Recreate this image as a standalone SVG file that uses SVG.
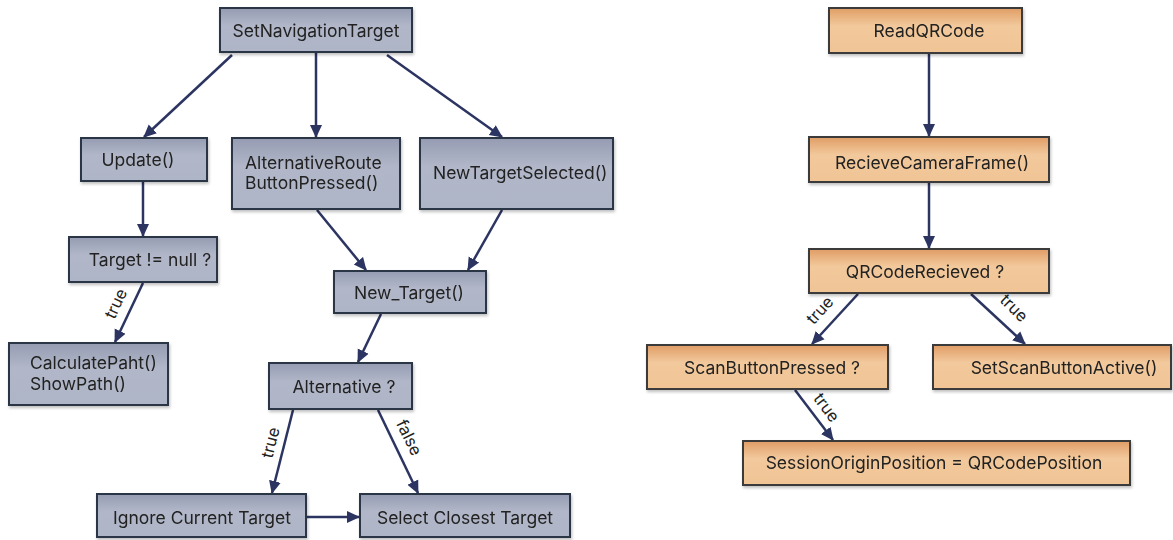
<svg xmlns="http://www.w3.org/2000/svg" width="1173" height="540" viewBox="0 0 1173 540">
<style>
.b{fill:url(#gb);stroke:#2b3445;stroke-width:2}
.o{fill:url(#go);stroke:#3a3a3a;stroke-width:2}
.t{font-family:Inter,"Liberation Sans",sans-serif;font-size:17.5px;fill:#222}
.c{text-anchor:middle}
.e{stroke:#2c3461;stroke-width:2.5;fill:none;marker-end:url(#ah)}
.l{font-family:Inter,"Liberation Sans",sans-serif;font-size:16.5px;fill:#222;text-anchor:middle}
</style>
<defs>
<linearGradient id="gb" x1="0" y1="0" x2="0" y2="1">
<stop offset="0" stop-color="#959cb2"/><stop offset="0.4" stop-color="#b1b7c8"/><stop offset="1" stop-color="#aeb5c6"/>
</linearGradient>
<linearGradient id="go" x1="0" y1="0" x2="0" y2="1">
<stop offset="0" stop-color="#e09d66"/><stop offset="0.4" stop-color="#f2c99c"/><stop offset="1" stop-color="#f0c495"/>
</linearGradient>
<marker id="ah" markerUnits="userSpaceOnUse" markerWidth="14" markerHeight="14" refX="12" refY="7" orient="auto">
<path d="M0,1 L13,7 L0,13 Z" fill="#2c3461"/>
</marker>
<filter id="sh" x="-10%" y="-10%" width="130%" height="140%">
<feDropShadow dx="1" dy="2" stdDeviation="1.5" flood-color="#000" flood-opacity="0.25"/>
</filter>
</defs>
<rect width="1173" height="540" fill="#fff"/>
<g id="connectors">
<line class="e" x1="232" y1="55" x2="144" y2="137"/>
<line class="e" x1="316" y1="53" x2="316" y2="137"/>
<line class="e" x1="387" y1="55" x2="502" y2="137"/>
<line class="e" x1="143" y1="182" x2="143" y2="236"/>
<line class="e" x1="143" y1="283" x2="115" y2="342"/>
<line class="e" x1="317" y1="210" x2="366" y2="270"/>
<line class="e" x1="502" y1="210" x2="468" y2="270"/>
<line class="e" x1="381" y1="314" x2="358" y2="362"/>
<line class="e" x1="293" y1="410" x2="272" y2="493"/>
<line class="e" x1="378" y1="410" x2="418" y2="493"/>
<line class="e" x1="307" y1="517" x2="359" y2="517"/>
<line class="e" x1="929" y1="54" x2="929" y2="136"/>
<line class="e" x1="929" y1="183" x2="929" y2="248"/>
<line class="e" x1="858" y1="294" x2="812" y2="344"/>
<line class="e" x1="971" y1="294" x2="1025" y2="344"/>
<line class="e" x1="795" y1="390" x2="833" y2="440"/>
<text class="l" transform="translate(121,306) rotate(-65)">true</text>
<text class="l" transform="translate(276,444) rotate(-76)">true</text>
<text class="l" transform="translate(404,440) rotate(64)">false</text>
<text class="l" transform="translate(824,314) rotate(-48)">true</text>
<text class="l" transform="translate(1010,312) rotate(45)">true</text>
<text class="l" transform="translate(822,411) rotate(53)">true</text>
</g>
<g id="n1" filter="url(#sh)"><rect class="b" x="220" y="8" width="192" height="44"/><text class="t c" x="316" y="37">SetNavigationTarget</text></g>
<g id="n2" filter="url(#sh)"><rect class="b" x="81" y="138" width="126" height="43"/><text class="t c" x="138" y="166">Update()</text></g>
<g id="n3" filter="url(#sh)"><rect class="b" x="232" y="138" width="168" height="71"/><text class="t" x="245" y="169">AlternativeRoute</text><text class="t" x="245" y="189">ButtonPressed()</text></g>
<g id="n4" filter="url(#sh)"><rect class="b" x="420" y="138" width="193" height="71"/><text class="t" x="433" y="179">NewTargetSelected()</text></g>
<g id="n5" filter="url(#sh)"><rect class="b" x="69" y="237" width="148" height="45"/><text class="t c" x="150" y="266">Target != null ?</text></g>
<g id="n6" filter="url(#sh)"><rect class="b" x="9" y="343" width="159" height="62"/><text class="t" x="30" y="369">CalculatePaht()</text><text class="t" x="30" y="390">ShowPath()</text></g>
<g id="n7" filter="url(#sh)"><rect class="b" x="334" y="271" width="152" height="42"/><text class="t c" x="409" y="299">New_Target()</text></g>
<g id="n8" filter="url(#sh)"><rect class="b" x="269" y="363" width="143" height="46"/><text class="t c" x="344" y="393">Alternative ?</text></g>
<g id="n9" filter="url(#sh)"><rect class="b" x="97" y="494" width="209" height="43"/><text class="t c" x="202" y="524">Ignore Current Target</text></g>
<g id="n10" filter="url(#sh)"><rect class="b" x="360" y="494" width="210" height="43"/><text class="t c" x="465" y="524">Select Closest Target</text></g>
<g id="r1" filter="url(#sh)"><rect class="o" x="829" y="8" width="193" height="45"/><text class="t c" x="929" y="37">ReadQRCode</text></g>
<g id="r2" filter="url(#sh)"><rect class="o" x="809" y="137" width="240" height="45"/><text class="t c" x="932" y="169">RecieveCameraFrame()</text></g>
<g id="r3" filter="url(#sh)"><rect class="o" x="809" y="249" width="240" height="44"/><text class="t c" x="925" y="278">QRCodeRecieved ?</text></g>
<g id="r4" filter="url(#sh)"><rect class="o" x="647" y="345" width="241" height="44"/><text class="t c" x="772" y="374">ScanButtonPressed ?</text></g>
<g id="r5" filter="url(#sh)"><rect class="o" x="933" y="345" width="238" height="44"/><text class="t c" x="1064" y="374">SetScanButtonActive()</text></g>
<g id="r6" filter="url(#sh)"><rect class="o" x="743" y="441" width="387" height="44"/><text class="t c" x="934" y="469">SessionOriginPosition = QRCodePosition</text></g>
</svg>
